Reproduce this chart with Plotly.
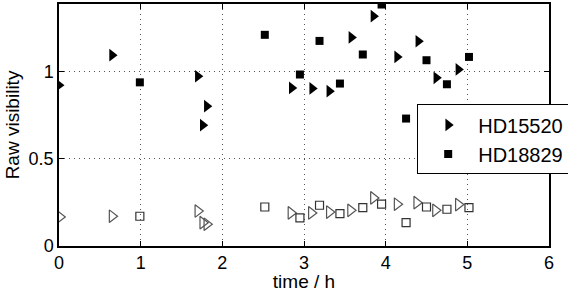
import plotly.graph_objects as go

# HD15520 (filled triangles)
t_hd15520 = [0.0, 0.65, 1.70, 1.76, 1.81, 2.85, 3.10, 3.31, 3.58, 3.85, 4.14, 4.40, 4.62, 4.89]
v_hd15520 = [0.924, 1.096, 0.975, 0.694, 0.803, 0.908, 0.905, 0.889, 1.198, 1.320, 1.086, 1.176, 0.966, 1.014]

# HD18829 (filled squares)
t_hd18829 = [0.99, 2.52, 2.95, 3.19, 3.44, 3.72, 3.95, 4.25, 4.50, 4.75, 5.02]
v_hd18829 = [0.94, 1.213, 0.985, 1.178, 0.933, 1.100, 1.387, 0.732, 1.067, 0.929, 1.086]

# Open triangles (HD15520 raw)
t_open_tri = [0.01, 0.65, 1.70, 1.76, 1.81, 2.84, 3.09, 3.31, 3.57, 3.85, 4.14, 4.38, 4.61, 4.89]
v_open_tri = [0.167, 0.171, 0.201, 0.134, 0.125, 0.19, 0.19, 0.195, 0.205, 0.276, 0.24, 0.249, 0.205, 0.238]

# Open squares (HD18829 raw)
t_open_sq = [0.99, 2.52, 2.95, 3.19, 3.44, 3.72, 3.95, 4.25, 4.50, 4.75, 5.02]
v_open_sq = [0.171, 0.224, 0.161, 0.234, 0.186, 0.22, 0.24, 0.134, 0.224, 0.211, 0.22]

x_ticks = [0, 1, 2, 3, 4, 5, 6]
y_ticks = [0, 0.5, 1]
y_tick_labels = ["0", "0.5", "1"]

FONT = "Liberation Sans, Arial, Helvetica, sans-serif"

fig = go.Figure()
fig.add_trace(go.Scatter(x=t_open_tri, y=v_open_tri, mode="markers", showlegend=False,
                         marker=dict(symbol="triangle-right-open", size=11, color="#555555",
                                     line=dict(width=1.2, color="#555555"))))
fig.add_trace(go.Scatter(x=t_open_sq, y=v_open_sq, mode="markers", showlegend=False,
                         marker=dict(symbol="square-open", size=8, color="#333333",
                                     line=dict(width=1.2, color="#333333"))))
fig.add_trace(go.Scatter(x=t_hd15520, y=v_hd15520, mode="markers", name="HD15520",
                         marker=dict(symbol="triangle-right", size=11, color="black")))
fig.add_trace(go.Scatter(x=t_hd18829, y=v_hd18829, mode="markers", name="HD18829",
                         marker=dict(symbol="square", size=8, color="black")))

axis_common = dict(showline=True, linecolor="black", linewidth=1.5, mirror="ticks",
                   ticks="inside", ticklen=5, tickcolor="black", tickwidth=1,
                   showgrid=True, gridcolor="#555555", griddash="1px,4px", gridwidth=1,
                   zeroline=False, automargin=True,
                   tickfont=dict(family=FONT, size=18, color="black"))

fig.update_layout(
    width=568, height=292,
    margin=dict(l=59, r=19, t=4, b=46, autoexpand=False),
    plot_bgcolor="white", paper_bgcolor="white",
    font=dict(family=FONT, size=18, color="black"),
    xaxis=dict(range=[0, 6], tickvals=x_ticks, title=dict(text="time / h", standoff=9,
               font=dict(family=FONT, size=19)), **axis_common),
    yaxis=dict(range=[0, 1.39], tickvals=y_ticks, ticktext=y_tick_labels,
               title=dict(text="Raw visibility", standoff=4, font=dict(family=FONT, size=19)),
               **axis_common),
    legend=dict(x=0.731, y=0.585, xanchor="left", yanchor="top",
                bgcolor="white", bordercolor="black", borderwidth=1,
                font=dict(family=FONT, size=20), itemwidth=50, tracegroupgap=0),
)
fig.write_html("out.html", config={"displayModeBar": False},
               post_script="document.body.style.margin='0px';document.body.style.overflow='hidden';")
